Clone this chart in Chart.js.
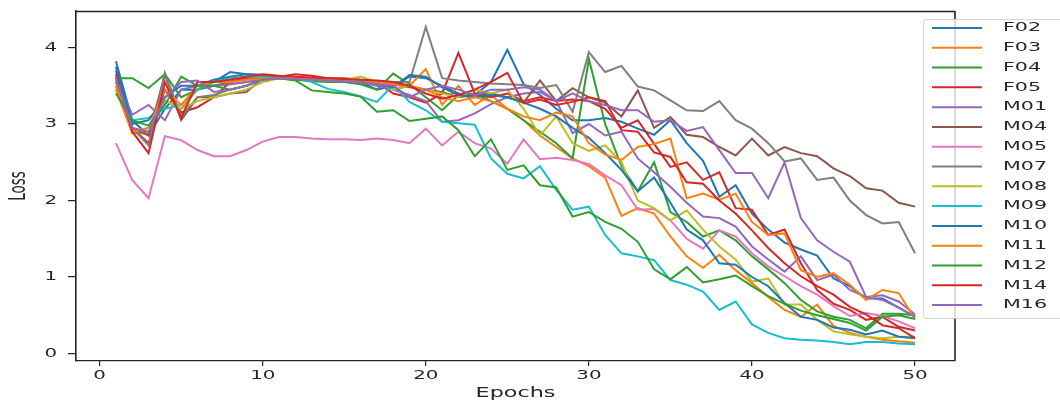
<!DOCTYPE html>
<html lang="en">
<head>
<meta charset="UTF-8">
<title>Loss per epoch</title>
<style>
  html, body { margin: 0; padding: 0; background: #fff; }
  #lossChart { display: block; }
</style>
</head>
<body>
<canvas id="lossChart" width="1060" height="405"></canvas>

<script src="https://cdn.jsdelivr.net/npm/chart.js"></script>
<script>
var epochs = [1, 2, 3, 4, 5, 6, 7, 8, 9, 10,
              11, 12, 13, 14, 15, 16, 17, 18, 19, 20,
              21, 22, 23, 24, 25, 26, 27, 28, 29, 30,
              31, 32, 33, 34, 35, 36, 37, 38, 39, 40,
              41, 42, 43, 44, 45, 46, 47, 48, 49, 50];
var xTicks = [0, 10, 20, 30, 40, 50];
var yTicks = [0, 1, 2, 3, 4];

var speakers = ['F02', 'F03', 'F04', 'F05', 'M01', 'M04', 'M05', 'M07',
                'M08', 'M09', 'M10', 'M11', 'M12', 'M14', 'M16'];
var colors = ['#1f77b4', '#ff7f0e', '#2ca02c', '#d62728', '#9467bd', '#8c564b', '#e377c2', '#7f7f7f',
              '#bcbd22', '#17becf', '#1f77b4', '#ff7f0e', '#2ca02c', '#d62728', '#9467bd'];

// loss per epoch, one list per speaker
var F02 = [3.82, 3.05, 2.85, 3.2, 3.45, 3.45, 3.55, 3.68, 3.65, 3.64,
           3.62, 3.6, 3.6, 3.59, 3.57, 3.55, 3.45, 3.5, 3.62, 3.6,
           3.5, 3.4, 3.38, 3.55, 3.97, 3.52, 3.38, 3.2, 3.05, 3.05,
           3.08, 3.03, 2.94, 2.86, 3.05, 2.75, 2.52, 2.05, 2.2, 1.83,
           1.62, 1.45, 1.36, 1.28, 0.98, 0.88, 0.72, 0.72, 0.6, 0.48];
var F03 = [3.45, 2.88, 2.88, 3.3, 3.2, 3.45, 3.5, 3.52, 3.55, 3.6,
           3.6, 3.6, 3.59, 3.58, 3.58, 3.57, 3.55, 3.45, 3.5, 3.72,
           3.25, 3.5, 3.25, 3.38, 3.2, 3.05, 2.85, 2.7, 2.55, 2.45,
           2.3, 1.8, 1.9, 1.83, 1.53, 1.27, 1.12, 1.29, 1.09, 0.92,
           0.74, 0.57, 0.48, 0.64, 0.36, 0.27, 0.22, 0.18, 0.16, 0.14];
var F04 = [3.6, 3.6, 3.47, 3.65, 3.35, 3.45, 3.5, 3.55, 3.6, 3.6,
           3.6, 3.58, 3.56, 3.55, 3.55, 3.52, 3.45, 3.66, 3.52, 3.35,
           3.18, 3.38, 3.4, 3.3, 3.2, 3.05, 2.9, 2.75, 2.55, 3.85,
           3.0, 2.45, 2.12, 2.5, 1.85, 1.72, 1.53, 1.61, 1.48, 1.27,
           1.1, 0.92, 0.7, 0.55, 0.48, 0.44, 0.33, 0.52, 0.52, 0.5];
var F05 = [3.7, 2.95, 2.75, 3.45, 3.15, 3.22, 3.35, 3.55, 3.6, 3.62,
           3.62, 3.65, 3.63, 3.6, 3.6, 3.58, 3.55, 3.4, 3.35, 3.28,
           3.4, 3.93, 3.4, 3.35, 3.4, 3.3, 3.35, 3.3, 3.32, 3.3,
           3.2, 2.95, 3.05, 2.74, 2.44, 2.5, 2.27, 2.37, 1.9, 1.88,
           1.55, 1.62, 1.18, 0.83, 0.65, 0.57, 0.44, 0.48, 0.35, 0.3];
var M01 = [3.62, 3.12, 3.25, 3.05, 3.45, 3.5, 3.5, 3.52, 3.55, 3.58,
           3.6, 3.59, 3.58, 3.57, 3.56, 3.55, 3.5, 3.45, 3.38, 3.3,
           3.03, 3.05, 3.14, 3.26, 3.35, 3.4, 3.42, 3.3, 2.88, 3.0,
           2.85, 2.9, 2.55, 2.37, 2.18, 1.97, 1.79, 1.77, 1.66, 1.4,
           1.23, 1.07, 1.27, 0.96, 1.03, 0.83, 0.74, 0.76, 0.68, 0.51];
var M04 = [3.55, 2.95, 2.85, 3.65, 3.05, 3.35, 3.35, 3.4, 3.42, 3.6,
           3.62, 3.6, 3.6, 3.6, 3.58, 3.57, 3.55, 3.52, 3.48, 3.45,
           3.42, 3.35, 3.38, 3.4, 3.35, 3.28, 3.57, 3.3, 3.47, 3.35,
           3.28, 3.1, 3.44, 2.95, 3.09, 2.86, 2.83, 2.7, 2.59, 2.81,
           2.59, 2.7, 2.62, 2.58, 2.42, 2.32, 2.16, 2.13, 1.97, 1.92];
var M05 = [2.75, 2.27, 2.03, 2.84, 2.79, 2.66, 2.58, 2.58, 2.66, 2.77,
           2.83, 2.83, 2.81, 2.8, 2.8, 2.79, 2.81, 2.79, 2.75, 2.94,
           2.72, 2.9, 2.75, 2.68, 2.48, 2.8, 2.54, 2.56, 2.53, 2.48,
           2.33, 2.2, 1.88, 1.89, 1.74, 1.5, 1.37, 1.61, 1.53, 1.31,
           1.14, 1.01, 0.88, 0.77, 0.62, 0.49, 0.53, 0.49, 0.42, 0.33];
var M07 = [3.58, 2.95, 2.72, 3.67, 3.1, 3.35, 3.38, 3.45, 3.5, 3.6,
           3.62, 3.61, 3.6, 3.59, 3.58, 3.57, 3.56, 3.55, 3.55, 4.27,
           3.6, 3.57, 3.55, 3.53, 3.52, 3.51, 3.47, 3.51, 3.16, 3.94,
           3.68, 3.76, 3.49, 3.44, 3.31, 3.18, 3.17, 3.3, 3.05, 2.94,
           2.75, 2.51, 2.55, 2.27, 2.3, 2.0, 1.81, 1.7, 1.72, 1.31];
var M08 = [3.48, 2.9, 2.95, 3.3, 3.2, 3.3, 3.35, 3.4, 3.45, 3.55,
           3.6, 3.6, 3.58, 3.57, 3.57, 3.62, 3.55, 3.45, 3.5, 3.45,
           3.4, 3.35, 3.45, 3.4, 3.45, 3.2, 2.85, 3.1, 2.75, 2.65,
           2.72, 2.5, 2.0, 1.9, 1.74, 1.87, 1.62, 1.4, 1.23, 0.94,
           0.98, 0.64, 0.64, 0.44, 0.29, 0.25, 0.22, 0.2, 0.22, 0.22];
var M09 = [3.6, 3.05, 3.08, 3.2, 3.25, 3.45, 3.55, 3.6, 3.62, 3.62,
           3.61, 3.61, 3.55, 3.46, 3.42, 3.36, 3.29, 3.51, 3.29, 3.18,
           3.03, 3.01, 2.99, 2.55, 2.35, 2.29, 2.45, 2.14, 1.88, 1.92,
           1.55, 1.31, 1.27, 1.22, 0.96, 0.9, 0.81, 0.57, 0.68, 0.38,
           0.27, 0.2, 0.18, 0.17, 0.15, 0.12, 0.15, 0.15, 0.13, 0.12];
var M10 = [3.75, 3.0, 3.05, 3.35, 3.5, 3.5, 3.58, 3.62, 3.65, 3.64,
           3.62, 3.61, 3.6, 3.59, 3.58, 3.56, 3.52, 3.48, 3.64, 3.62,
           3.48, 3.38, 3.35, 3.38, 3.35, 3.28, 3.2, 3.1, 2.95, 2.82,
           2.62, 2.4, 2.12, 2.3, 1.97, 1.62, 1.48, 1.18, 1.16, 1.0,
           0.88, 0.66, 0.48, 0.44, 0.34, 0.31, 0.25, 0.3, 0.22, 0.2];
var M11 = [3.5, 2.9, 2.95, 3.45, 3.25, 3.5, 3.55, 3.55, 3.58, 3.6,
           3.61, 3.6, 3.6, 3.58, 3.57, 3.56, 3.55, 3.52, 3.5, 3.45,
           3.35, 3.3, 3.35, 3.3, 3.2, 3.1, 3.05, 3.15, 3.1, 2.75,
           2.6, 2.53, 2.7, 2.74, 2.81, 2.03, 2.09, 2.01, 2.09, 1.72,
           1.55, 1.57, 1.09, 1.0, 1.05, 0.9, 0.7, 0.83, 0.79, 0.45];
var M12 = [3.4, 3.05, 2.98, 3.25, 3.62, 3.5, 3.5, 3.45, 3.5, 3.58,
           3.6, 3.57, 3.44, 3.42, 3.4, 3.36, 3.16, 3.18, 3.04, 3.07,
           3.1, 2.92, 2.58, 2.8, 2.4, 2.46, 2.2, 2.17, 1.79, 1.85,
           1.72, 1.63, 1.46, 1.1, 0.97, 1.13, 0.93, 0.97, 1.02, 0.88,
           0.75, 0.65, 0.56, 0.5, 0.45, 0.4, 0.3, 0.48, 0.5, 0.45];
var M14 = [3.65, 2.9, 2.62, 3.55, 3.08, 3.55, 3.55, 3.58, 3.62, 3.65,
           3.63, 3.62, 3.61, 3.6, 3.59, 3.58, 3.57, 3.55, 3.5, 3.4,
           3.33, 3.38, 3.45, 3.55, 3.67, 3.27, 3.32, 3.25, 3.29, 3.35,
           3.3, 2.92, 2.9, 2.63, 2.57, 2.24, 2.22, 2.0, 1.83, 1.61,
           1.38, 1.18, 1.01, 0.88, 0.77, 0.61, 0.51, 0.37, 0.33, 0.2];
var M16 = [3.6, 2.95, 2.9, 3.34, 3.55, 3.57, 3.42, 3.45, 3.5, 3.58,
           3.6, 3.59, 3.58, 3.57, 3.56, 3.55, 3.52, 3.5, 3.35, 3.45,
           3.5, 3.45, 3.38, 3.45, 3.45, 3.48, 3.45, 3.3, 3.4, 3.3,
           3.25, 3.18, 3.18, 3.03, 3.05, 2.91, 2.96, 2.66, 2.36, 2.36,
           2.03, 2.5, 1.77, 1.48, 1.33, 1.2, 0.74, 0.7, 0.6, 0.48];

var seriesValues = [F02, F03, F04, F05, M01, M04, M05, M07, M08, M09, M10, M11, M12, M14, M16];

var FONT = '"DejaVu Sans", sans-serif';
var TEXT_COLOR = '#262626';
var STRETCH = 1.65;   // glyphs are drawn wide, like the rest of the figure

function wideText(ctx, text, x, y, size, align, rotate) {
    ctx.save();
    ctx.translate(x, y);
    ctx.scale(STRETCH, 1);
    if (rotate) ctx.rotate(-Math.PI / 2);
    ctx.font = size + 'px ' + FONT;
    ctx.fillStyle = TEXT_COLOR;
    ctx.textAlign = align;
    ctx.textBaseline = 'middle';
    ctx.fillText(text, 0, 0);
    ctx.restore();
}

// spines on top/right, tick labels, axis titles and the legend box
var decorations = {
    id: 'decorations',
    afterDraw: function(chart) {
        var ctx = chart.ctx;
        var area = chart.chartArea;
        var xs = chart.scales.x, ys = chart.scales.y;

        ctx.save();
        ctx.strokeStyle = '#222';
        ctx.lineWidth = 1.3;
        ctx.beginPath();
        ctx.moveTo(area.left, area.top + 0.5);
        ctx.lineTo(area.right, area.top + 0.5);
        ctx.stroke();
        ctx.lineWidth = 1.6;
        ctx.beginPath();
        ctx.moveTo(area.right, area.top);
        ctx.lineTo(area.right, area.bottom);
        ctx.stroke();
        ctx.restore();

        xTicks.forEach(function(v) {
            wideText(ctx, String(v), xs.getPixelForValue(v), area.bottom + 15, 12, 'center');
        });
        yTicks.forEach(function(v) {
            wideText(ctx, String(v), area.left - 19, ys.getPixelForValue(v), 12, 'right');
        });

        wideText(ctx, 'Epochs', (area.left + area.right) / 2, 393, 13.5, 'center');
        wideText(ctx, 'Loss', 19, (area.top + area.bottom) / 2, 13.5, 'center', true);

        // legend
        var bx = 923, by = 19, bw = 160, bh = 299, r = 3;
        ctx.save();
        ctx.fillStyle = 'rgba(255,255,255,0.8)';
        ctx.strokeStyle = 'rgba(204,204,204,0.8)';
        ctx.lineWidth = 1;
        ctx.beginPath();
        ctx.moveTo(bx + r, by + 0.5);
        ctx.lineTo(bx + bw, by + 0.5);
        ctx.lineTo(bx + bw, by + bh + 0.5);
        ctx.lineTo(bx + r, by + bh + 0.5);
        ctx.arcTo(bx + 0.5, by + bh + 0.5, bx + 0.5, by + bh - r, r);
        ctx.lineTo(bx + 0.5, by + r);
        ctx.arcTo(bx + 0.5, by + 0.5, bx + r, by + 0.5, r);
        ctx.closePath();
        ctx.fill();
        ctx.stroke();
        ctx.restore();

        speakers.forEach(function(name, i) {
            var y = 28 + i * 19.79;
            ctx.save();
            ctx.strokeStyle = colors[i];
            ctx.lineWidth = 2;
            ctx.beginPath();
            ctx.moveTo(932, y);
            ctx.lineTo(982, y);
            ctx.stroke();
            ctx.restore();
            wideText(ctx, name, 1003, y, 12.5, 'left');
        });
    }
};

var datasets = speakers.map(function(name, i) {
    return {
        label: name,
        borderColor: colors[i],
        backgroundColor: colors[i],
        data: epochs.map(function(e, k) { return {x: e, y: seriesValues[i][k]}; }),
        order: speakers.length - i
    };
});

var ctx = document.getElementById('lossChart');
var lossChart = new Chart(ctx.getContext('2d'), {
    type: 'line',
    data: { datasets: datasets },
    options: {
        responsive: false,
        animation: false,
        layout: { padding: { left: 0, top: 11, right: 105, bottom: 0 } },
        elements: {
            point: { radius: 0 },
            line: { borderWidth: 2, tension: 0, fill: false }
        },
        scales: {
            x: {
                type: 'linear',
                min: -1.45,
                max: 52.45,
                afterBuildTicks: function(scale) {
                    scale.ticks = xTicks.map(function(v) { return {value: v}; });
                },
                afterFit: function(scale) { scale.height = 44; },
                ticks: { display: false },
                grid: { display: true, drawOnChartArea: false, drawTicks: true, tickLength: 5, color: '#222', lineWidth: 1.2 },
                border: { display: true, color: '#222', width: 1.3 }
            },
            y: {
                type: 'linear',
                min: -0.098,
                max: 4.478,
                afterBuildTicks: function(scale) {
                    scale.ticks = yTicks.map(function(v) { return {value: v}; });
                },
                afterFit: function(scale) { scale.width = 76; },
                ticks: { display: false },
                grid: { display: true, drawOnChartArea: false, drawTicks: true, tickLength: 8, color: '#222', lineWidth: 1.2 },
                border: { display: true, color: '#222', width: 1.6 }
            }
        },
        plugins: {
            legend: { display: false },
            title: { display: false },
            tooltip: { enabled: false }
        }
    },
    plugins: [decorations]
});
</script>
</body>
</html>
